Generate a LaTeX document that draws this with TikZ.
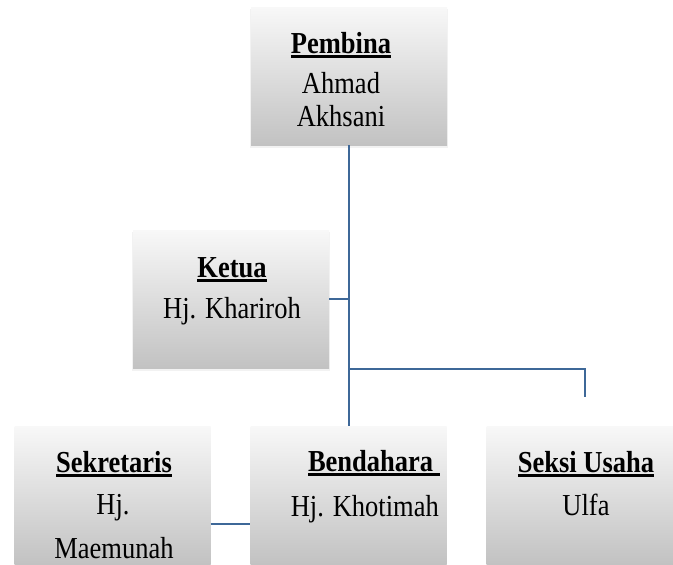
\documentclass[tikz,border=0pt]{standalone}
\usepackage{fontspec}
\setmainfont{Liberation Serif}
\usetikzlibrary{shadows}
\definecolor{lineblue}{RGB}{62,104,152}
\definecolor{boxtop}{RGB}{248,248,248}
\definecolor{boxbot}{RGB}{194,194,194}
\newsavebox\ulbox
\newcommand\myul[1]{\sbox\ulbox{#1}\rlap{\rule[-4pt]{\wd\ulbox}{2.1pt}}\usebox\ulbox}
\newcommand\tx[1]{\scalebox{1}[1.15]{#1}}
\tikzset{
  orgbox/.style={rectangle, minimum width=196pt, minimum height=138pt, inner sep=0pt,
    top color=boxtop, bottom color=boxbot, draw=none,
    general shadow={fill=black, opacity=0.05, shadow yshift=-2.5pt, shadow scale=1.01},
    general shadow={fill=black, opacity=0.07, shadow yshift=-1.2pt}},
  txt/.style={anchor=base, inner sep=0pt, font=\fontsize{26.5}{30}\selectfont, text=black},
  conn/.style={draw=lineblue, line width=2pt}
}
\begin{document}
\begin{tikzpicture}[x=1pt,y=-1pt]
\useasboundingbox (0,0) rectangle (673,565);
\clip (0,0) rectangle (673,565);
% boxes
\node[orgbox] (pembina) at (349,76) {};
\node[orgbox] (ketua) at (231,299) {};
\node[orgbox] (sekretaris) at (112.5,495) {};
\node[orgbox] (bendahara) at (348.5,495) {};
\node[orgbox] (seksi) at (584.5,495) {};
% texts
\node[txt] (pembinaT) at (341,53) {\tx{\myul{\textbf{Pembina}}}};
\node[txt] (pembinaN1) at (341,93) {\tx{Ahmad}};
\node[txt] (pembinaN2) at (341,126) {\tx{Akhsani}};
\node[txt] (ketuaT) at (232,277) {\tx{\myul{\textbf{Ketua}}}};
\node[txt] (ketuaN) at (232,318) {\tx{Hj. Khariroh}};
\node[txt] (sekT) at (114,472) {\tx{\myul{\textbf{Sekretaris}}}};
\node[txt] (sekN1) at (113,514) {\tx{Hj.}};
\node[txt] (sekN2) at (114,558) {\tx{Maemunah}};
\node[txt, anchor=base east] (benT) at (440,471) {\tx{\myul{\textbf{Bendahara\ }}}};
\node[txt, anchor=base east] (benN) at (439,516) {\tx{Hj. Khotimah}};
\node[txt] (seksiT) at (586,472) {\tx{\myul{\textbf{Seksi Usaha}}}};
\node[txt] (seksiN) at (586,515) {\tx{Ulfa}};
% connectors
\coordinate (branch) at (348.5,369);
\coordinate (sEnd) at (585,397);
\draw[conn] (pembina.south) -- (pembina.south |- bendahara.north);
\draw[conn] (ketua.east) -- (ketua.east -| pembina.south);
\draw[conn] (branch) -| (sEnd);
\draw[conn] ([yshift=-29pt]sekretaris.east) -- ([yshift=-29pt]bendahara.west);
\end{tikzpicture}
\end{document}
